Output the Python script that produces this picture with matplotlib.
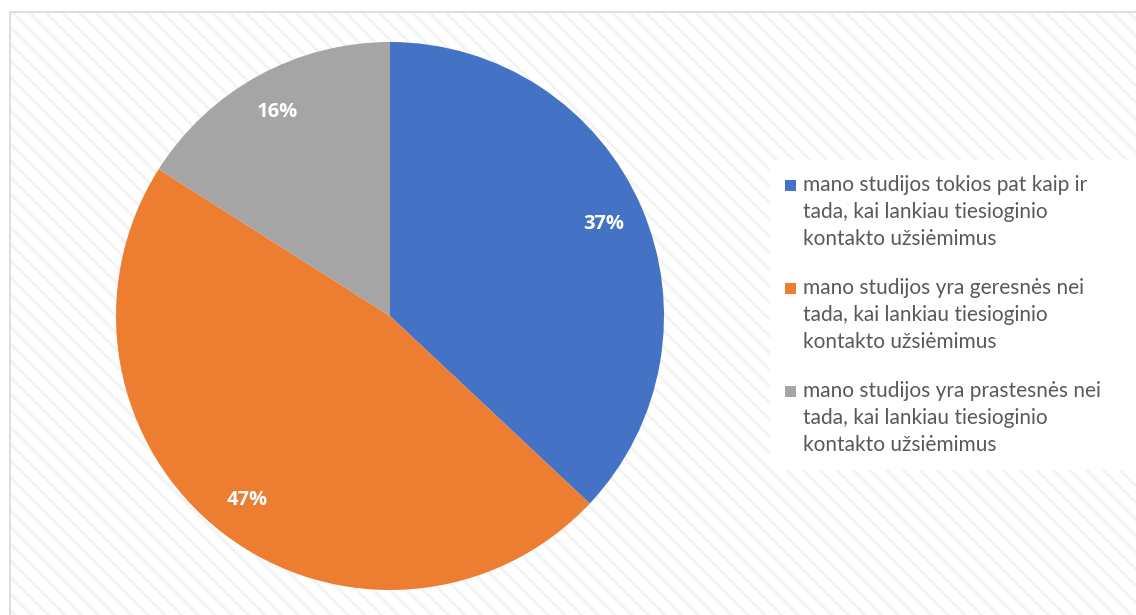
import matplotlib.pyplot as plt
from matplotlib.patches import Rectangle

labels = [
    "mano studijos tokios pat kaip ir\ntada, kai lankiau tiesioginio\nkontakto užsiėmimus",
    "mano studijos yra geresnės nei\ntada, kai lankiau tiesioginio\nkontakto užsiėmimus",
    "mano studijos yra prastesnės nei\ntada, kai lankiau tiesioginio\nkontakto užsiėmimus",
]
values = [37, 47, 16]
colors = ["#4472C4", "#ED7D31", "#A5A5A5"]

plt.rcParams["font.family"] = ["Lato", "DejaVu Sans"]
plt.rcParams["hatch.linewidth"] = 2.0

W, H = 1136, 615
fig = plt.figure(figsize=(W / 100, H / 100), dpi=100)


def fx(px):
    return px / W


def fy(py):
    return 1 - py / H


# chart area background with light diagonal stripes
bg = Rectangle((fx(10), -0.1), 1.2, fy(12) + 0.1, transform=fig.transFigure,
               facecolor="white", edgecolor="#F3F3F3", hatch="\\" * 2, linewidth=0, zorder=-5)
fig.patches.append(bg)
border = Rectangle((fx(10), -0.1), 1.2, fy(12) + 0.1, transform=fig.transFigure,
                   facecolor="none", edgecolor="#D9D9D9", linewidth=1.2, zorder=-4)
fig.patches.append(border)

ax = fig.add_axes([fx(116), fy(590), 548 / W, 548 / H])
wedges, texts, autotexts = ax.pie(values, colors=colors, startangle=90, counterclock=False,
                                  autopct="%d%%", pctdistance=0.85,
                                  wedgeprops=dict(linewidth=0),
                                  textprops=dict(color="white", fontsize=14.5, fontweight="bold",
                                                 family=["Open Sans", "DejaVu Sans"]))
ax.set_xlim(-1, 1)
ax.set_ylim(-1, 1)
ax.set_aspect("equal")

# legend drawn by hand so markers sit on the first line
fig.patches.append(Rectangle((fx(770), fy(470)), fx(1136) - fx(770), fy(160) - fy(470),
                             transform=fig.transFigure, facecolor="white", edgecolor="none", zorder=2))
line_h = 27
entry_top = [185, 288, 391]
for lab, col, y0 in zip(labels, colors, entry_top):
    fig.patches.append(Rectangle((fx(785), fy(y0 + 6)), 11 / W, 11 / H,
                                 transform=fig.transFigure, facecolor=col, edgecolor="none", zorder=3))
    for i, line in enumerate(lab.split("\n")):
        fig.text(fx(803), fy(y0 + i * line_h), line, fontsize=15, color="#595959",
                 ha="left", va="center", zorder=4)

fig.savefig("out.png", dpi=100)
